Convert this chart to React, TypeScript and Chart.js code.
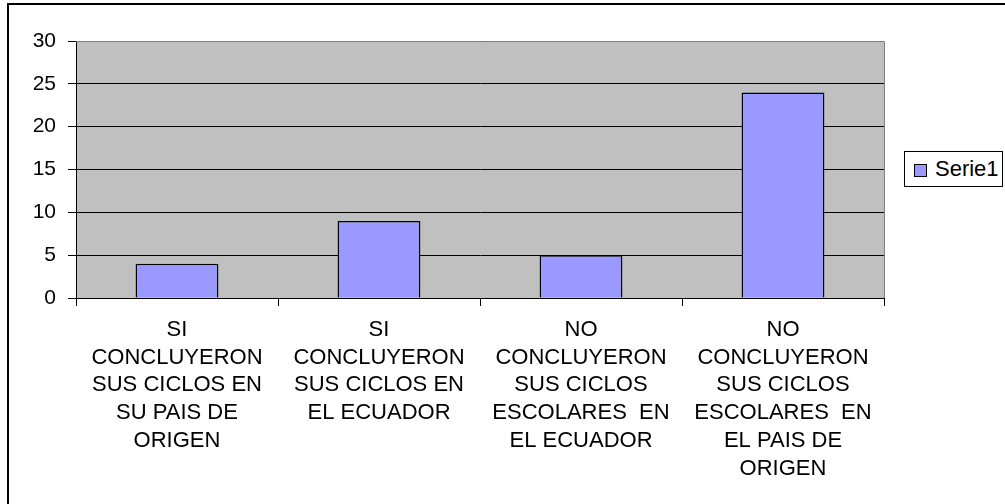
import React, { useEffect, useRef } from "react";
import { Chart, registerables } from "chart.js";

Chart.register(...registerables);

const categories: string[][] = [
  ["SI", "CONCLUYERON", "SUS CICLOS EN", "SU PAIS DE", "ORIGEN"],
  ["SI", "CONCLUYERON", "SUS CICLOS EN", "EL ECUADOR"],
  ["NO", "CONCLUYERON", "SUS CICLOS", "ESCOLARES  EN", "EL ECUADOR"],
  ["NO", "CONCLUYERON", "SUS CICLOS", "ESCOLARES  EN", "EL PAIS DE", "ORIGEN"],
];
const seriesName = "Serie1";
const serie1: number[] = [4, 9, 5, 24];
const yMin = 0;
const yMax = 30;
const yStep = 5;

const FONT = "'Liberation Sans', Arial, sans-serif";

const plotBg = {
  id: "plotBg",
  beforeDraw(chart: any) {
    const { ctx, chartArea } = chart;
    ctx.save();
    ctx.fillStyle = "#C0C0C0";
    ctx.fillRect(chartArea.left, chartArea.top, chartArea.right - chartArea.left, chartArea.bottom - chartArea.top);
    ctx.restore();
  },
  afterDraw(chart: any) {
    const { ctx, chartArea } = chart;
    ctx.save();
    ctx.strokeStyle = "#808080";
    ctx.lineWidth = 1;
    ctx.beginPath();
    ctx.moveTo(chartArea.left, chartArea.top + 0.5);
    ctx.lineTo(chartArea.right + 0.5, chartArea.top + 0.5);
    ctx.lineTo(chartArea.right + 0.5, chartArea.bottom);
    ctx.stroke();
    ctx.restore();
  },
};

export default function App() {
  const ref = useRef<HTMLCanvasElement>(null);
  useEffect(() => {
    if (!ref.current) return;
    const chart = new Chart(ref.current, {
      type: "bar",
      data: {
        labels: categories,
        datasets: [
          {
            label: seriesName,
            data: serie1,
            backgroundColor: "#9999FF",
            borderColor: "#000000",
            borderWidth: 1.5,
            barPercentage: 0.41,
            categoryPercentage: 1,
          },
        ],
      },
      options: {
        animation: false,
        responsive: false,
        maintainAspectRatio: false,
        layout: { padding: { left: 0, top: 41, right: 121, bottom: 0 } },
        plugins: {
          legend: { display: false },
          tooltip: { enabled: false },
        },
        scales: {
          x: {
            grid: {
              display: true,
              drawOnChartArea: false,
              drawTicks: true,
              tickLength: 8,
              color: "#000000",
              offset: true,
            },
            border: { display: true, color: "#000000" },
            ticks: {
              color: "#000000",
              font: { family: FONT, size: 22, lineHeight: 1.26 },
              padding: 10,
              maxRotation: 0,
              minRotation: 0,
              autoSkip: false,
            },
            afterFit(scale: any) {
              scale.height = 504 - 298;
            },
          },
          y: {
            min: yMin,
            max: yMax,
            ticks: {
              stepSize: yStep,
              color: "#000000",
              font: { family: FONT, size: 21 },
              padding: 12,
            },
            grid: {
              color: "#000000",
              tickLength: 8,
              drawTicks: true,
            },
            border: { display: true, color: "#000000" },
            afterFit(scale: any) {
              scale.width = 76;
            },
          },
        },
      },
      plugins: [plotBg],
    });
    return () => chart.destroy();
  }, []);

  return (
    <div style={{ position: "fixed", left: 0, top: 0, width: 1005, height: 504, background: "#fff", overflow: "hidden" }}>
      <canvas ref={ref} width={1005} height={504} style={{ position: "absolute", left: 0, top: 0, width: 1005, height: 504 }} />
      <div
        style={{
          position: "absolute",
          left: 7,
          top: 3,
          width: 1020,
          height: 520,
          border: "2px solid #000",
          pointerEvents: "none",
        }}
      />
      <div
        style={{
          position: "absolute",
          left: 904,
          top: 151,
          width: 97,
          height: 34,
          border: "1px solid #000",
          background: "#fff",
          fontFamily: FONT,
          fontSize: 22,
          color: "#000",
        }}
      >
        <div
          style={{
            position: "absolute",
            left: 9,
            top: 12,
            width: 11,
            height: 11,
            background: "#9999FF",
            border: "1px solid #000",
          }}
        />
        <div style={{ position: "absolute", left: 30, top: 5, lineHeight: "24px", whiteSpace: "nowrap" }}>{seriesName}</div>
      </div>
    </div>
  );
}
